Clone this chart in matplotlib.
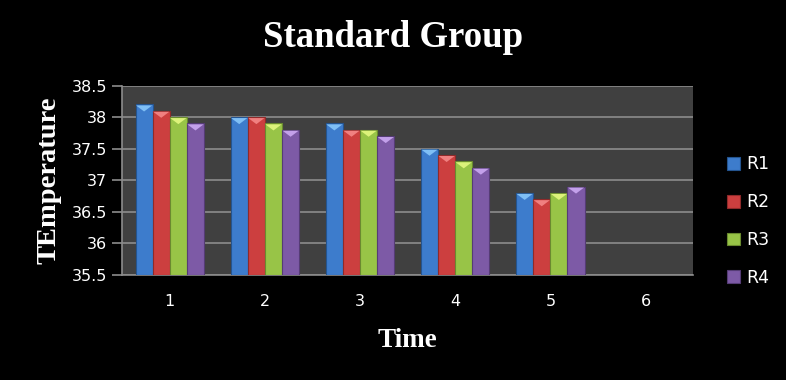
import matplotlib
matplotlib.use("Agg")
import matplotlib.pyplot as plt
import matplotlib.transforms as mtransforms
from matplotlib.path import Path
import numpy as np

categories = [1, 2, 3, 4, 5, 6]
series_names = ["R1", "R2", "R3", "R4"]
r1 = [38.2, 38.0, 37.9, 37.5, 36.8, np.nan]
r2 = [38.1, 38.0, 37.8, 37.4, 36.7, np.nan]
r3 = [38.0, 37.9, 37.8, 37.3, 36.8, np.nan]
r4 = [37.9, 37.8, 37.7, 37.2, 36.9, np.nan]
yticks = [35.5, 36, 36.5, 37, 37.5, 38, 38.5]
ytick_labels = ["35.5", "36", "36.5", "37", "37.5", "38", "38.5"]

colors = ["#3d7ccc", "#cc3f3f", "#98c447", "#7d5aa6"]
edge = ["#24548f", "#8f2a2a", "#6a8a2f", "#553c75"]
light = ["#7fbff5", "#f08080", "#dcf27a", "#c3a0ea"]

chevron = Path([(-1, 0), (1, 0), (0, -0.75), (-1, 0)],
               [Path.MOVETO, Path.LINETO, Path.LINETO, Path.CLOSEPOLY])

fig = plt.figure(figsize=(7.86, 3.80), dpi=100, facecolor="black")
ax = fig.add_axes([0.1555, 0.2763, 0.7262, 0.4987])
ax.set_facecolor("#404040")

x = np.arange(len(categories)) + 1
w = 0.18
base = 35.5
handles = []
for i, vals in enumerate([r1, r2, r3, r4]):
    v = np.array(vals, dtype=float)
    xs = x + (i - 1.5) * w
    mask = ~np.isnan(v)
    b = ax.bar(xs[mask], v[mask] - base, width=w, bottom=base, color=colors[i],
               edgecolor=edge[i], linewidth=0.8, zorder=3, label=series_names[i])
    handles.append(b)
    off = mtransforms.offset_copy(ax.transData, fig=fig, x=0, y=-1, units="dots")
    ax.scatter(xs[mask], v[mask], marker=chevron, s=135, color=light[i],
               edgecolors="none", transform=off, zorder=4)

ax.set_xlim(0.5, 6.5)
ax.set_ylim(35.5, 38.5)
ax.set_yticks(yticks)
ax.set_yticklabels(ytick_labels)
ax.set_xticks(x)
ax.set_xticklabels([str(c) for c in categories])
ax.yaxis.grid(True, color="#8c8c8c", linewidth=1.2, zorder=0)
ax.set_axisbelow(True)
for s in ["top", "right"]:
    ax.spines[s].set_visible(False)
for s in ["left", "bottom"]:
    ax.spines[s].set_color("#8c8c8c")
    ax.spines[s].set_linewidth(1.2)
ax.tick_params(axis="y", colors="#8c8c8c", length=7, width=1.2, labelcolor="white",
               labelsize=11.5, pad=4)
ax.tick_params(axis="x", length=0, labelcolor="white", labelsize=11.5, pad=14)

ax.set_xlabel("Time", family="Liberation Serif", fontweight="bold", fontsize=19.5,
              color="white", labelpad=13)
ax.set_ylabel("TEmperature", family="Liberation Serif", fontweight="bold", fontsize=20.5,
              color="white", labelpad=7)
fig.text(0.5, 0.902, "Standard Group", family="Liberation Serif", fontweight="bold",
         fontsize=26.5, color="white", ha="center", va="center")

leg = fig.legend(handles=handles, labels=series_names, loc="center left",
                 bbox_to_anchor=(0.925, 0.418), frameon=False, fontsize=12.5,
                 labelcolor="white", handlelength=0.75, handleheight=0.75,
                 handletextpad=0.35, labelspacing=1.14, borderaxespad=0, borderpad=0)

fig.savefig("out.png", dpi=100, facecolor="black")
